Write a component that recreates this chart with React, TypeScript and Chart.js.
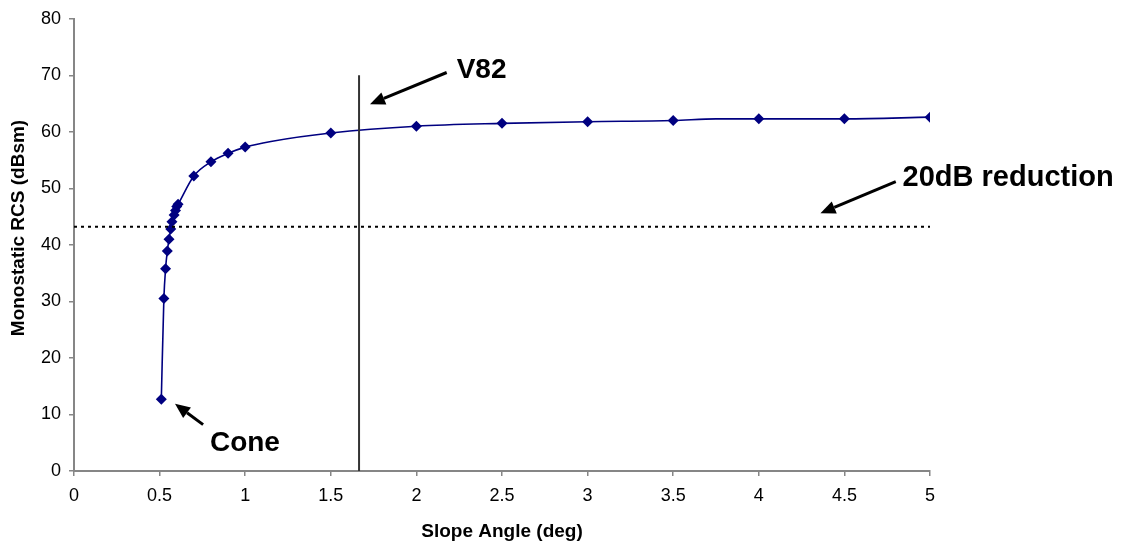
import React, { useEffect, useRef } from "react";
import { Chart, registerables } from "chart.js";

Chart.register(...registerables);

// Slope angle (deg) of the measured points
const angles = [0.51, 0.525, 0.535, 0.545, 0.555, 0.565, 0.572, 0.585, 0.593, 0.6, 0.608, 0.7, 0.8, 0.9, 1.0, 1.5, 2.0, 2.5, 3.0, 3.5, 4.0, 4.5, 5.0];
// Monostatic RCS (dBsm) of the measured points
const rcs = [12.7, 30.5, 35.8, 38.9, 41.0, 42.8, 44.1, 45.3, 46.1, 46.8, 47.2, 52.2, 54.7, 56.2, 57.3, 59.8, 61.0, 61.5, 61.8, 62.0, 62.3, 62.3, 62.6];
// additional unmarked points of the curve
const extraAngles = [1.15, 3.75];
const extraRcs = [58.3, 62.3];

// V82 vertical marker
const v82Angle = 1.665;
const v82Rcs = [0, 70];
// 20 dB reduction level
const reductionAngles = [0, 5];
const reductionLevel = 43.2;

const xMin = 0, xMax = 5, xStep = 0.5;
const yMin = 0, yMax = 80, yStep = 10;

const annotations = [
  { text: "V82", tx: 2.235, ty: 69.6, from: [2.177, 70.5], to: [1.729, 64.9] },
  { text: "20dB reduction", tx: 4.84, ty: 50.4, from: [4.8, 51.2], to: [4.36, 45.6] },
  { text: "Cone", tx: 0.794, ty: 3.5, from: [0.754, 8.2], to: [0.59, 11.9] },
];

const FONT = "'Liberation Sans', Arial, Helvetica, sans-serif";
const NAVY = "#000080";
const AXIS = "#868686";

export default function App() {
  const ref = useRef<HTMLCanvasElement | null>(null);

  useEffect(() => {
    document.body.style.margin = "0";
    const markerPts = angles.map((a, i) => ({ x: a, y: rcs[i] }));
    const curvePts = markerPts
      .concat(extraAngles.map((a, i) => ({ x: a, y: extraRcs[i] })))
      .sort((p, q) => p.x - q.x);

    const overlay = {
      id: "overlay",
      afterDraw(chart: any) {
        const ctx = chart.ctx as CanvasRenderingContext2D;
        const xs = chart.scales.x;
        const ys = chart.scales.y;
        const area = chart.chartArea;
        ctx.save();
        // axis titles
        ctx.fillStyle = "#000";
        ctx.font = `bold 19px ${FONT}`;
        ctx.textAlign = "center";
        ctx.textBaseline = "middle";
        ctx.fillText("Slope Angle (deg)", (area.left + area.right) / 2, 532);
        ctx.save();
        ctx.translate(19, 228);
        ctx.rotate(-Math.PI / 2);
        ctx.fillText("Monostatic RCS (dBsm)", 0, 0);
        ctx.restore();
        // annotations
        ctx.textAlign = "left";
        ctx.textBaseline = "alphabetic";
        for (const a of annotations) {
          ctx.font = `bold ${a.text.length > 6 ? 29 : 28}px ${FONT}`;
          ctx.fillText(a.text, xs.getPixelForValue(a.tx), ys.getPixelForValue(a.ty));
          const x1 = xs.getPixelForValue(a.from[0]);
          const y1 = ys.getPixelForValue(a.from[1]);
          const x2 = xs.getPixelForValue(a.to[0]);
          const y2 = ys.getPixelForValue(a.to[1]);
          const ang = Math.atan2(y2 - y1, x2 - x1);
          const L = 15, W = 6.5;
          const bx = x2 - L * Math.cos(ang);
          const by = y2 - L * Math.sin(ang);
          ctx.strokeStyle = "#000";
          ctx.lineWidth = 3;
          ctx.beginPath();
          ctx.moveTo(x1, y1);
          ctx.lineTo(bx, by);
          ctx.stroke();
          ctx.beginPath();
          ctx.moveTo(x2, y2);
          ctx.lineTo(bx + W * Math.sin(ang), by - W * Math.cos(ang));
          ctx.lineTo(bx - W * Math.sin(ang), by + W * Math.cos(ang));
          ctx.closePath();
          ctx.fill();
        }
        ctx.restore();
      },
    };

    const chart = new Chart(ref.current as HTMLCanvasElement, {
      type: "scatter",
      data: {
        datasets: [
          {
            label: "V82",
            data: v82Rcs.map((v) => ({ x: v82Angle, y: v })),
            showLine: true,
            borderColor: "#333333",
            borderWidth: 2,
            pointRadius: 0,
          },
          {
            label: "20dB reduction",
            data: reductionAngles.map((a) => ({ x: a, y: reductionLevel })),
            showLine: true,
            borderColor: "#000000",
            borderWidth: 2,
            borderDash: [3, 4],
            pointRadius: 0,
          },
          {
            label: "curve",
            data: curvePts,
            showLine: true,
            borderColor: NAVY,
            borderWidth: 1.6,
            pointRadius: 0,
            cubicInterpolationMode: "monotone",
          },
          {
            label: "RCS",
            data: markerPts,
            showLine: false,
            pointStyle: "rectRot",
            pointRadius: 5.5,
            backgroundColor: NAVY,
            borderColor: NAVY,
            borderWidth: 0,
          },
        ] as any,
      },
      options: {
        animation: false,
        responsive: false,
        maintainAspectRatio: false,
        layout: { padding: { top: 14, right: 191, left: 0, bottom: 0 } },
        plugins: { legend: { display: false }, tooltip: { enabled: false } },
        scales: {
          x: {
            type: "linear",
            min: xMin,
            max: xMax,
            afterFit: (s: any) => { s.height = 75; },
            ticks: {
              stepSize: xStep,
              color: "#000",
              font: { family: FONT, size: 18 },
              padding: 9,
              maxRotation: 0,
              callback: (v: any) => String(+v),
            },
            grid: { drawOnChartArea: false, color: AXIS, tickLength: 5, lineWidth: 1.5 },
            border: { color: AXIS, width: 2 },
          },
          y: {
            type: "linear",
            min: yMin,
            max: yMax,
            afterFit: (s: any) => { s.width = 74; },
            ticks: {
              stepSize: yStep,
              color: "#000",
              font: { family: FONT, size: 18 },
              padding: 8,
              callback: (v: any) => String(+v),
            },
            grid: { drawOnChartArea: false, color: AXIS, tickLength: 5, lineWidth: 1.5 },
            border: { color: AXIS, width: 2 },
          },
        },
      } as any,
      plugins: [overlay],
    });
    return () => chart.destroy();
  }, []);

  return (
    <div style={{ position: "absolute", left: 0, top: 0, width: 1121, height: 546, background: "#fff" }}>
      <canvas ref={ref} width={1121} height={546} style={{ width: 1121, height: 546 }} />
    </div>
  );
}
